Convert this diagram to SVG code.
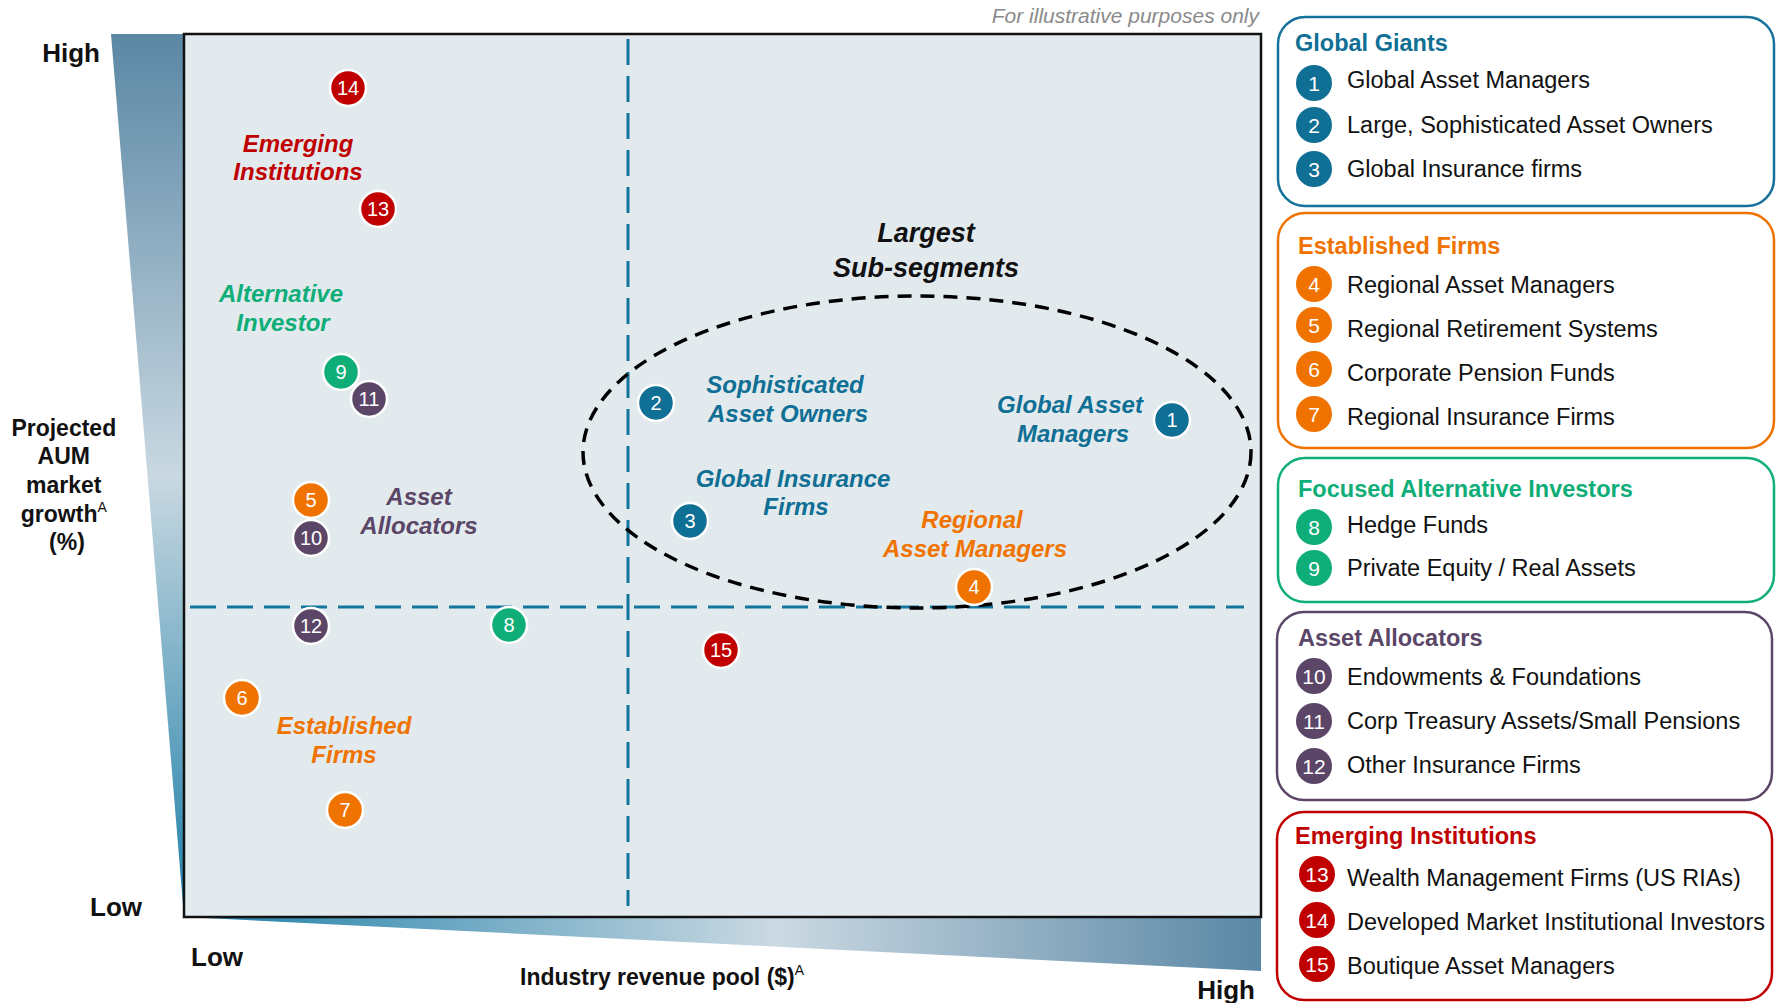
<svg xmlns="http://www.w3.org/2000/svg" width="1781" height="1003" viewBox="0 0 1781 1003">
  <defs>
    <linearGradient id="gradY" gradientUnits="userSpaceOnUse" x1="0" y1="34" x2="0" y2="917">
      <stop offset="0" stop-color="#5a87a5"/>
      <stop offset="0.5" stop-color="#c9d8e1"/>
      <stop offset="1" stop-color="#1c7ea8"/>
    </linearGradient>
    <linearGradient id="gradX" gradientUnits="userSpaceOnUse" x1="184" y1="0" x2="1261" y2="0">
      <stop offset="0" stop-color="#1c7ea8"/>
      <stop offset="0.55" stop-color="#cbd9e2"/>
      <stop offset="1" stop-color="#5a87a5"/>
    </linearGradient>
    <style>
      text { font-family: "Liberation Sans", Arial, sans-serif; }
      .axis { font-size: 26px; font-weight: bold; fill: #111; }
      .axtitle { font-size: 23px; font-weight: bold; fill: #111; }
      .sup { font-size: 14px; font-weight: normal; }
      .note { font-size: 21px; font-style: italic; fill: #8a8a8a; }
      .grp { font-size: 24px; font-weight: bold; font-style: italic; text-anchor: middle; }
      .big { font-size: 27px; font-weight: bold; font-style: italic; text-anchor: middle; fill: #111; }
      .divider { fill: none; stroke: #12759e; stroke-width: 3; stroke-dasharray: 26 11; }
      .zone { fill: none; stroke: #000; stroke-width: 3.5; stroke-dasharray: 14 9; }
      .dot { stroke: #fff; stroke-width: 2.5; }
      .num { font-size: 20px; fill: #fff; text-anchor: middle; }
      .lnum { font-size: 21px; fill: #fff; text-anchor: middle; }
      .card { fill: #fff; stroke-width: 2.5; }
      .ctitle { font-size: 23.5px; font-weight: bold; }
      .item { font-size: 23.5px; fill: #111; }
      .blue { fill: #0f6f94; }
      .orange { fill: #f07300; }
      .green { fill: #0fae78; }
      .purple { fill: #5b4668; }
      .red { fill: #c00000; }
    </style>
  </defs>

  <!-- axis wedges -->
  <polygon points="111,34 184,34 184,917" fill="url(#gradY)"/>
  <polygon points="184,917 1261,917 1261,971" fill="url(#gradX)"/>

  <!-- plot area -->
  <rect x="184" y="34" width="1077" height="883" fill="#e2eaee" stroke="#111" stroke-width="2.5"/>

  <!-- axis labels -->
  <text class="axis" x="100" y="62" text-anchor="end">High</text>
  <text class="axis" x="142" y="916" text-anchor="end">Low</text>
  <text class="axis" x="191" y="966">Low</text>
  <text class="axis" x="1255" y="999" text-anchor="end">High</text>
  <text class="axtitle" x="520" y="985" font-size="23.6">Industry revenue pool ($)<tspan class="sup" dy="-10">A</tspan></text>
  <text class="axtitle" text-anchor="middle">
    <tspan x="67" y="436">Projected</tspan>
    <tspan x="67" y="464">AUM</tspan>
    <tspan x="67" y="493">market</tspan>
    <tspan x="67" y="522">growth<tspan class="sup" dy="-10">A</tspan></tspan>
    <tspan x="67" y="550">(%)</tspan>
  </text>
  <text class="note" x="1259" y="23" text-anchor="end">For illustrative purposes only</text>

  <!-- quadrant dividers and highlighted zone -->
  <g id="connectors">
    <line class="divider" x1="628" y1="39" x2="628" y2="906"/>
    <line class="divider" x1="190" y1="607" x2="1244" y2="607"/>
    <ellipse class="zone" cx="917" cy="452" rx="334" ry="156"/>
  </g>

  <!-- cluster labels -->
  <text class="big"><tspan x="926" y="242">Largest</tspan><tspan x="926" y="277">Sub-segments</tspan></text>
  <text class="grp red"><tspan x="298" y="152">Emerging</tspan><tspan x="298" y="180">Institutions</tspan></text>
  <text class="grp green"><tspan x="281" y="302">Alternative</tspan><tspan x="283" y="331">Investor</tspan></text>
  <text class="grp purple"><tspan x="419" y="505">Asset</tspan><tspan x="419" y="534">Allocators</tspan></text>
  <text class="grp orange"><tspan x="344" y="734">Established</tspan><tspan x="344" y="763">Firms</tspan></text>
  <text class="grp blue"><tspan x="785" y="393">Sophisticated</tspan><tspan x="788" y="422">Asset Owners</tspan></text>
  <text class="grp blue"><tspan x="1070" y="413">Global Asset</tspan><tspan x="1073" y="442">Managers</tspan></text>
  <text class="grp blue"><tspan x="793" y="487">Global Insurance</tspan><tspan x="796" y="515">Firms</tspan></text>
  <text class="grp orange"><tspan x="972" y="528">Regional</tspan><tspan x="975" y="557">Asset Managers</tspan></text>

  <!-- plotted segments -->
  <g id="seg-1"><circle class="dot blue" cx="1172" cy="420" r="18"/><text class="num" x="1172" y="427">1</text></g>
  <g id="seg-2"><circle class="dot blue" cx="656" cy="403" r="18"/><text class="num" x="656" y="410">2</text></g>
  <g id="seg-3"><circle class="dot blue" cx="690" cy="521" r="18"/><text class="num" x="690" y="528">3</text></g>
  <g id="seg-4"><circle class="dot orange" cx="974" cy="587" r="18"/><text class="num" x="974" y="594">4</text></g>
  <g id="seg-5"><circle class="dot orange" cx="311" cy="500" r="18"/><text class="num" x="311" y="507">5</text></g>
  <g id="seg-6"><circle class="dot orange" cx="242" cy="698" r="18"/><text class="num" x="242" y="705">6</text></g>
  <g id="seg-7"><circle class="dot orange" cx="345" cy="810" r="18"/><text class="num" x="345" y="817">7</text></g>
  <g id="seg-8"><circle class="dot green" cx="509" cy="625" r="18"/><text class="num" x="509" y="632">8</text></g>
  <g id="seg-9"><circle class="dot green" cx="341" cy="372" r="18"/><text class="num" x="341" y="379">9</text></g>
  <g id="seg-11"><circle class="dot purple" cx="369" cy="399" r="18"/><text class="num" x="369" y="406">11</text></g>
  <g id="seg-10"><circle class="dot purple" cx="311" cy="538" r="18"/><text class="num" x="311" y="545">10</text></g>
  <g id="seg-12"><circle class="dot purple" cx="311" cy="626" r="18"/><text class="num" x="311" y="633">12</text></g>
  <g id="seg-13"><circle class="dot red" cx="378" cy="209" r="18"/><text class="num" x="378" y="216">13</text></g>
  <g id="seg-14"><circle class="dot red" cx="348" cy="88" r="18"/><text class="num" x="348" y="95">14</text></g>
  <g id="seg-15"><circle class="dot red" cx="721" cy="650" r="18"/><text class="num" x="721" y="657">15</text></g>

  <!-- legend: Global Giants -->
  <g id="legend-global-giants">
    <rect class="card" x="1278" y="17" width="496" height="189" rx="27" stroke="#16729a"/>
    <text class="ctitle blue" x="1295" y="51">Global Giants</text>
    <circle class="blue" cx="1314" cy="83" r="18"/><text class="lnum" x="1314" y="90.5">1</text>
    <text class="item" x="1347" y="88">Global Asset Managers</text>
    <circle class="blue" cx="1314" cy="125" r="18"/><text class="lnum" x="1314" y="132.5">2</text>
    <text class="item" x="1347" y="133">Large, Sophisticated Asset Owners</text>
    <circle class="blue" cx="1314" cy="169" r="18"/><text class="lnum" x="1314" y="176.5">3</text>
    <text class="item" x="1347" y="177">Global Insurance firms</text>
  </g>

  <!-- legend: Established Firms -->
  <g id="legend-established-firms">
    <rect class="card" x="1278" y="213" width="496" height="235" rx="27" stroke="#f07300"/>
    <text class="ctitle orange" x="1298" y="254">Established Firms</text>
    <circle class="orange" cx="1314" cy="284" r="18"/><text class="lnum" x="1314" y="291.5">4</text>
    <text class="item" x="1347" y="293">Regional Asset Managers</text>
    <circle class="orange" cx="1314" cy="325" r="18"/><text class="lnum" x="1314" y="332.5">5</text>
    <text class="item" x="1347" y="337">Regional Retirement Systems</text>
    <circle class="orange" cx="1314" cy="369" r="18"/><text class="lnum" x="1314" y="376.5">6</text>
    <text class="item" x="1347" y="381">Corporate Pension Funds</text>
    <circle class="orange" cx="1314" cy="414" r="18"/><text class="lnum" x="1314" y="421.5">7</text>
    <text class="item" x="1347" y="425">Regional Insurance Firms</text>
  </g>

  <!-- legend: Focused Alternative Investors -->
  <g id="legend-alternative-investors">
    <rect class="card" x="1278" y="458" width="496" height="144" rx="27" stroke="#10ae7a"/>
    <text class="ctitle green" x="1298" y="497">Focused Alternative Investors</text>
    <circle class="green" cx="1314" cy="527" r="18"/><text class="lnum" x="1314" y="534.5">8</text>
    <text class="item" x="1347" y="533">Hedge Funds</text>
    <circle class="green" cx="1314" cy="568" r="18"/><text class="lnum" x="1314" y="575.5">9</text>
    <text class="item" x="1347" y="576">Private Equity / Real Assets</text>
  </g>

  <!-- legend: Asset Allocators -->
  <g id="legend-asset-allocators">
    <rect class="card" x="1277" y="612" width="495" height="188" rx="27" stroke="#5b4668"/>
    <text class="ctitle purple" x="1298" y="646">Asset Allocators</text>
    <circle class="purple" cx="1314" cy="676" r="18"/><text class="lnum" x="1314" y="683.5">10</text>
    <text class="item" x="1347" y="685">Endowments &amp; Foundations</text>
    <circle class="purple" cx="1314" cy="721" r="18"/><text class="lnum" x="1314" y="728.5">11</text>
    <text class="item" x="1347" y="729">Corp Treasury Assets/Small Pensions</text>
    <circle class="purple" cx="1314" cy="766" r="18"/><text class="lnum" x="1314" y="773.5">12</text>
    <text class="item" x="1347" y="773">Other Insurance Firms</text>
  </g>

  <!-- legend: Emerging Institutions -->
  <g id="legend-emerging-institutions">
    <rect class="card" x="1277" y="812" width="495" height="188" rx="27" stroke="#c00000"/>
    <text class="ctitle red" x="1295" y="844">Emerging Institutions</text>
    <circle class="red" cx="1317" cy="874" r="18"/><text class="lnum" x="1317" y="881.5">13</text>
    <text class="item" x="1347" y="886">Wealth Management Firms (US RIAs)</text>
    <circle class="red" cx="1317" cy="920" r="18"/><text class="lnum" x="1317" y="927.5">14</text>
    <text class="item" x="1347" y="930">Developed Market Institutional Investors</text>
    <circle class="red" cx="1317" cy="964" r="18"/><text class="lnum" x="1317" y="971.5">15</text>
    <text class="item" x="1347" y="974">Boutique Asset Managers</text>
  </g>
</svg>
